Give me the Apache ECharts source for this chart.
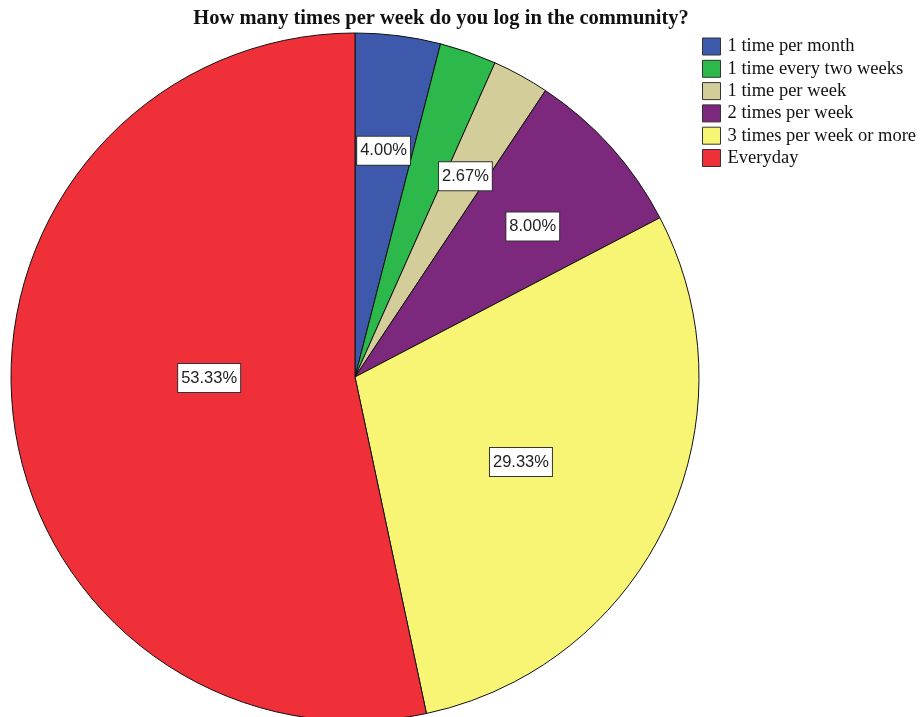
<!DOCTYPE html>
<html>
<head>
<meta charset="utf-8">
<script src="https://cdn.jsdelivr.net/npm/echarts@6/dist/echarts.min.js"></script>
<style>
  html, body { margin: 0; padding: 0; background: #fff; }
  #chart { width: 924px; height: 717px; }
</style>
</head>
<body>
<div id="chart"></div>
<script>
// Login frequency shares (percent of respondents)
const categories = [
  '1 time per month',
  '1 time every two weeks',
  '1 time per week',
  '2 times per week',
  '3 times per week or more',
  'Everyday'
];
const percents = [4.00, 2.67, 2.67, 8.00, 29.33, 53.33];
// Slices whose percentage label is printed
const showLabel = [true, false, true, true, true, true];

const sliceColors = ['#3E58AC', '#2DB84C', '#D3CE99', '#7B287D', '#F8F574', '#EF3038'];
// Where each label sits: fraction along the slice's arc, fraction of the radius
const labelPlacement = [[0.5, 0.663], [0.5, 0.66], [0.5, 0.666], [0.56, 0.677], [0.518, 0.542], [0.529, 0.424]];

const CX = 355, CY = 377, R = 344;
const total = percents.reduce((a, b) => a + b, 0);
const starts = [];
percents.reduce((acc, v) => { starts.push(acc); return acc + v; }, 0);

const chart = echarts.init(document.getElementById('chart'), null, { renderer: 'canvas' });
chart.setOption({
  animation: false,
  backgroundColor: '#fff',
  title: {
    text: 'How many times per week do you log in the community?',
    left: 441,
    textAlign: 'center',
    top: 8,
    padding: 0,
    textStyle: { fontFamily: 'Liberation Serif', fontWeight: 'bold', fontSize: 20.5, color: '#111' }
  },
  legend: {
    orient: 'vertical',
    left: 702,
    top: 37,
    padding: 0,
    itemWidth: 18,
    itemHeight: 17,
    itemGap: 3.3,
    icon: 'rect',
    selectedMode: false,
    textStyle: { fontFamily: 'Liberation Serif', fontSize: 18.5, color: '#111', padding: [0, 0, 0, 2] },
    itemStyle: { borderColor: '#333', borderWidth: 1 },
    data: categories
  },
  series: [{
    type: 'pie',
    center: [CX, CY],
    radius: R,
    startAngle: 90,
    clockwise: true,
    avoidLabelOverlap: false,
    data: categories.map((name, i) => ({
      name,
      value: percents[i],
      itemStyle: { color: sliceColors[i] },
      label: { show: showLabel[i] }
    })),
    itemStyle: { borderColor: '#111', borderWidth: 1 },
    emphasis: { disabled: true },
    labelLine: { show: false },
    label: {
      position: 'inside',
      formatter: p => p.value.toFixed(2) + '%',
      fontFamily: 'Liberation Sans',
      fontSize: 16.5,
      color: '#222',
      backgroundColor: '#fff',
      borderColor: '#333',
      borderWidth: 1,
      padding: [6, 3, 5, 3]
    },
    labelLayout: function (params) {
      const i = params.dataIndex;
      const [f, rf] = labelPlacement[i];
      const deg = (starts[i] + percents[i] * f) / total * 360;
      const a = deg * Math.PI / 180;
      return {
        x: CX + R * rf * Math.sin(a),
        y: CY - R * rf * Math.cos(a),
        align: 'center',
        verticalAlign: 'middle'
      };
    }
  }]
});
</script>
</body>
</html>
